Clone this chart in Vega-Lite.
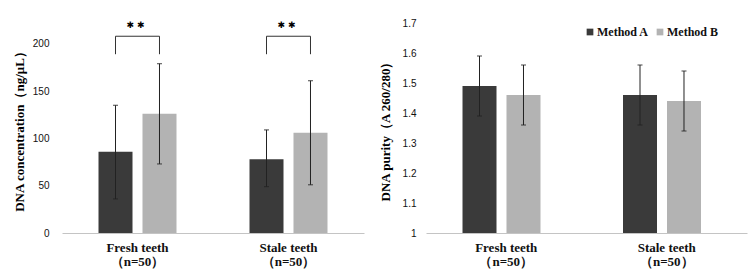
{
  "$schema": "https://vega.github.io/schema/vega-lite/v6.json",
  "background": "white",
  "padding": {"left": 13, "top": 18, "right": 5, "bottom": 5},
  "bounds": "flush",
  "spacing": 62,
  "config": {
    "view": {"stroke": null},
    "axis": {"grid": false, "ticks": false, "domainColor": "#c4c4c4", "labelColor": "#111", "titleColor": "#000", "titleFont": "Liberation Serif", "titleFontWeight": "bold", "titleFontSize": 13},
    "axisY": {"domain": false, "labelFont": "Liberation Sans", "labelFontSize": 10},
    "axisX": {"labelFont": "Liberation Serif", "labelFontWeight": "bold", "labelFontSize": 13, "labelAngle": 0, "labelPadding": 8, "labelLineHeight": 14, "title": null}
  },
  "datasets": {
    "conc": [
      {"group": "Fresh teeth|（n=50）", "method": "Method A", "mean": 86, "lo": 36, "hi": 135},
      {"group": "Fresh teeth|（n=50）", "method": "Method B", "mean": 126, "lo": 73, "hi": 179},
      {"group": "Stale teeth|（n=50）", "method": "Method A", "mean": 78, "lo": 49, "hi": 109},
      {"group": "Stale teeth|（n=50）", "method": "Method B", "mean": 106, "lo": 51, "hi": 161}
    ],
    "purity": [
      {"group": "Fresh teeth|（n=50）", "method": "Method A", "mean": 1.49, "lo": 1.39, "hi": 1.59},
      {"group": "Fresh teeth|（n=50）", "method": "Method B", "mean": 1.46, "lo": 1.36, "hi": 1.56},
      {"group": "Stale teeth|（n=50）", "method": "Method A", "mean": 1.46, "lo": 1.36, "hi": 1.56},
      {"group": "Stale teeth|（n=50）", "method": "Method B", "mean": 1.44, "lo": 1.34, "hi": 1.54}
    ],
    "bracket": [
      {"group": "Fresh teeth|（n=50）", "method": "Method A", "y": 189, "o": 1},
      {"group": "Fresh teeth|（n=50）", "method": "Method A", "y": 208, "o": 2},
      {"group": "Fresh teeth|（n=50）", "method": "Method B", "y": 208, "o": 3},
      {"group": "Fresh teeth|（n=50）", "method": "Method B", "y": 189, "o": 4},
      {"group": "Stale teeth|（n=50）", "method": "Method A", "y": 189, "o": 1},
      {"group": "Stale teeth|（n=50）", "method": "Method A", "y": 208, "o": 2},
      {"group": "Stale teeth|（n=50）", "method": "Method B", "y": 208, "o": 3},
      {"group": "Stale teeth|（n=50）", "method": "Method B", "y": 189, "o": 4}
    ],
    "stars": [
      {"group": "Fresh teeth|（n=50）", "label": "✱ ✱", "y": 220},
      {"group": "Stale teeth|（n=50）", "label": "✱ ✱", "y": 220}
    ]
  },
  "hconcat": [
    {
      "width": 302,
      "height": 210,
      "encoding": {
        "x": {"field": "group", "type": "nominal", "sort": null, "scale": {"paddingInner": 0, "paddingOuter": 0}, "axis": {"labelExpr": "split(datum.value, '|')"}}
      },
      "layer": [
        {
          "data": {"name": "conc"},
          "mark": {"type": "bar"},
          "encoding": {
            "xOffset": {"field": "method", "type": "nominal", "scale": {"paddingInner": 0.227, "paddingOuter": 0.83}},
            "y": {"field": "mean", "type": "quantitative", "scale": {"domain": [0, 222], "nice": false}, "axis": {"values": [0, 50, 100, 150, 200], "title": "DNA concentration（ng/μL）", "labelPadding": 13, "titlePadding": 6}},
            "color": {"field": "method", "type": "nominal", "scale": {"domain": ["Method A", "Method B"], "range": ["#3a3a3a", "#b3b3b3"]}, "legend": null}
          }
        },
        {
          "data": {"name": "conc"},
          "mark": {"type": "rule", "color": "#222", "strokeWidth": 1},
          "encoding": {
            "xOffset": {"field": "method", "type": "nominal"},
            "y": {"field": "lo", "type": "quantitative", "scale": {"domain": [0, 222], "nice": false}, "axis": {"values": [0, 50, 100, 150, 200], "title": "DNA concentration（ng/μL）", "labelPadding": 13, "titlePadding": 6}},
            "y2": {"field": "hi"}
          }
        },
        {
          "data": {"name": "conc"},
          "mark": {"type": "tick", "orient": "horizontal", "size": 5, "thickness": 1.2, "color": "#222"},
          "encoding": {
            "xOffset": {"field": "method", "type": "nominal"},
            "y": {"field": "lo", "type": "quantitative", "scale": {"domain": [0, 222], "nice": false}, "axis": {"values": [0, 50, 100, 150, 200], "title": "DNA concentration（ng/μL）", "labelPadding": 13, "titlePadding": 6}}
          }
        },
        {
          "data": {"name": "conc"},
          "mark": {"type": "tick", "orient": "horizontal", "size": 5, "thickness": 1.2, "color": "#222"},
          "encoding": {
            "xOffset": {"field": "method", "type": "nominal"},
            "y": {"field": "hi", "type": "quantitative", "scale": {"domain": [0, 222], "nice": false}, "axis": {"values": [0, 50, 100, 150, 200], "title": "DNA concentration（ng/μL）", "labelPadding": 13, "titlePadding": 6}}
          }
        },
        {
          "data": {"name": "bracket"},
          "mark": {"type": "line", "color": "#333", "strokeWidth": 1},
          "encoding": {
            "xOffset": {"field": "method", "type": "nominal"},
            "y": {"field": "y", "type": "quantitative", "scale": {"domain": [0, 222], "nice": false}, "axis": {"values": [0, 50, 100, 150, 200], "title": "DNA concentration（ng/μL）", "labelPadding": 13, "titlePadding": 6}},
            "detail": {"field": "group"},
            "order": {"field": "o", "type": "quantitative"}
          }
        },
        {
          "data": {"name": "stars"},
          "mark": {"type": "text", "font": "DejaVu Sans", "fontSize": 9, "color": "#000", "baseline": "middle", "align": "center", "dx": -2},
          "encoding": {
            "y": {"field": "y", "type": "quantitative", "scale": {"domain": [0, 222], "nice": false}, "axis": {"values": [0, 50, 100, 150, 200], "title": "DNA concentration（ng/μL）", "labelPadding": 13, "titlePadding": 6}},
            "text": {"field": "label"}
          }
        }
      ]
    },
    {
      "width": 321,
      "height": 210,
      "data": {"name": "purity"},
      "encoding": {
        "x": {"field": "group", "type": "nominal", "sort": null, "scale": {"paddingInner": 0, "paddingOuter": 0}, "axis": {"labelExpr": "split(datum.value, '|')"}},
        "xOffset": {"field": "method", "type": "nominal", "scale": {"paddingInner": 0.2, "paddingOuter": 0.883}}
      },
      "layer": [
        {
          "mark": {"type": "bar"},
          "encoding": {
            "y": {"field": "mean", "type": "quantitative", "scale": {"domain": [1, 1.7], "zero": false, "nice": false}, "axis": {"values": [1, 1.1, 1.2, 1.3, 1.4, 1.5, 1.6, 1.7], "format": ".1~f", "labelOverlap": false, "title": "DNA purity（A 260/280）", "labelPadding": 10, "titlePadding": 10}},
            "y2": {"datum": 1},
            "color": {"field": "method", "type": "nominal", "scale": {"domain": ["Method A", "Method B"], "range": ["#3a3a3a", "#b3b3b3"]},
              "legend": {"orient": "none", "legendX": 158, "legendY": 3, "direction": "horizontal", "title": null, "symbolType": "square", "symbolSize": 45, "symbolStrokeWidth": 0, "labelFont": "Liberation Serif", "labelFontWeight": "bold", "labelFontSize": 12, "labelColor": "#111", "labelOffset": 1, "columnPadding": 5}}
          }
        },
        {
          "mark": {"type": "rule", "color": "#222", "strokeWidth": 1},
          "encoding": {
            "y": {"field": "lo", "type": "quantitative", "scale": {"domain": [1, 1.7], "zero": false, "nice": false}, "axis": {"values": [1, 1.1, 1.2, 1.3, 1.4, 1.5, 1.6, 1.7], "format": ".1~f", "labelOverlap": false, "title": "DNA purity（A 260/280）", "labelPadding": 10, "titlePadding": 10}},
            "y2": {"field": "hi"}
          }
        },
        {
          "mark": {"type": "tick", "orient": "horizontal", "size": 5, "thickness": 1.2, "color": "#222"},
          "encoding": {"y": {"field": "lo", "type": "quantitative", "scale": {"domain": [1, 1.7], "zero": false, "nice": false}, "axis": {"values": [1, 1.1, 1.2, 1.3, 1.4, 1.5, 1.6, 1.7], "format": ".1~f", "labelOverlap": false, "title": "DNA purity（A 260/280）", "labelPadding": 10, "titlePadding": 10}}}
        },
        {
          "mark": {"type": "tick", "orient": "horizontal", "size": 5, "thickness": 1.2, "color": "#222"},
          "encoding": {"y": {"field": "hi", "type": "quantitative", "scale": {"domain": [1, 1.7], "zero": false, "nice": false}, "axis": {"values": [1, 1.1, 1.2, 1.3, 1.4, 1.5, 1.6, 1.7], "format": ".1~f", "labelOverlap": false, "title": "DNA purity（A 260/280）", "labelPadding": 10, "titlePadding": 10}}}
        }
      ]
    }
  ],
  "resolve": {"legend": {"color": "independent"}}
}
